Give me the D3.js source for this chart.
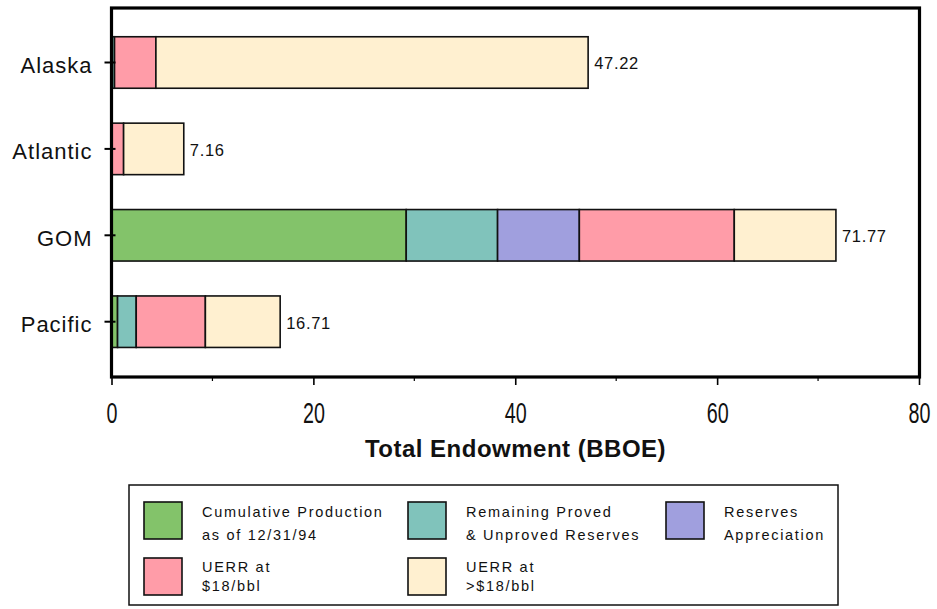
<!DOCTYPE html>
<html>
<head>
<meta charset="utf-8">
<script src="https://cdn.jsdelivr.net/npm/d3@7"></script>
<style>
  html, body { margin: 0; padding: 0; background: #fff; }
  svg { display: block; font-family: "Liberation Sans", Arial, sans-serif; }
</style>
</head>
<body>
<svg id="chart" width="937" height="609"></svg>
<script>
// Offshore regions and their endowment components (billion barrels of oil equivalent)
const regions = ["Alaska", "Atlantic", "GOM", "Pacific"];
const cumulativeProduction = [0, 0, 29.2, 0.6];
const remainingReserves = [0.3, 0, 9.05, 1.85];
const reservesAppreciation = [0, 0, 8.1, 0];
const uerrAt18 = [4.1, 1.2, 15.35, 6.85];
const uerrAbove18 = [42.82, 5.96, 10.07, 7.41];
const totals = [47.22, 7.16, 71.77, 16.71];

const xTicks = [0, 20, 40, 60, 80];
const xMinorTicks = [10, 30, 50, 70];

const seriesKeys = ["cum", "rem", "app", "u18", "u18p"];
const seriesColors = ["#83c36a", "#80c3bb", "#a09fde", "#ff9ca8", "#fff0d0"];
const legendLabels = [
  ["Cumulative Production", "as of 12/31/94"],
  ["Remaining Proved", "& Unproved Reserves"],
  ["Reserves", "Appreciation"],
  ["UERR at", "$18/bbl"],
  ["UERR at", ">$18/bbl"]
];

const rows = regions.map((r, i) => ({
  region: r,
  cum: cumulativeProduction[i],
  rem: remainingReserves[i],
  app: reservesAppreciation[i],
  u18: uerrAt18[i],
  u18p: uerrAbove18[i],
  total: totals[i]
}));

const svg = d3.select("#chart");

const frame = { left: 111.5, right: 919.5, top: 8, bottom: 377 };

const x = d3.scaleLinear().domain([0, 80]).range([frame.left, 919]);
const y = d3.scaleBand().domain(regions).range([19.3, 364.9])
  .paddingInner(0.404).paddingOuter(0.202);

const color = d3.scaleOrdinal().domain(seriesKeys).range(seriesColors);

const stacked = d3.stack().keys(seriesKeys)(rows);

// Stacked bar segments
const layers = svg.append("g").selectAll("g")
  .data(stacked)
  .join("g")
  .attr("fill", d => color(d.key));

layers.selectAll("rect")
  .data(d => d.filter(s => s[1] - s[0] > 0))
  .join("rect")
  .attr("x", d => x(d[0]))
  .attr("y", d => y(d.data.region))
  .attr("width", d => x(d[1]) - x(d[0]))
  .attr("height", y.bandwidth())
  .attr("stroke", "#111")
  .attr("stroke-width", 1.6);

// Total labels at bar ends
svg.append("g").selectAll("text")
  .data(rows)
  .join("text")
  .attr("x", d => x(d.total) + 6)
  .attr("y", d => y(d.region) + y.bandwidth() / 2)
  .attr("dy", "0.42em")
  .attr("font-size", 16.5)
  .attr("letter-spacing", 0.7)
  .attr("fill", "#111")
  .text(d => d.total.toFixed(2));

// Plot frame
svg.append("rect")
  .attr("x", frame.left)
  .attr("y", frame.top)
  .attr("width", frame.right - frame.left)
  .attr("height", frame.bottom - frame.top)
  .attr("fill", "none")
  .attr("stroke", "#000")
  .attr("stroke-width", 3.2);

// Category axis
const yAxis = svg.append("g")
  .attr("transform", `translate(${frame.left},0)`)
  .call(d3.axisLeft(y).tickSize(7).tickPadding(12));
yAxis.select(".domain").remove();
yAxis.selectAll(".tick line")
  .attr("x2", -7).attr("x1", 4)
  .attr("stroke", "#000").attr("stroke-width", 2);
yAxis.selectAll(".tick text")
  .attr("font-size", 22)
  .attr("dy", "0.48em")
  .attr("letter-spacing", 1)
  .attr("fill", "#111")
  .attr("font-family", "'Liberation Sans', Arial, sans-serif");

// Value axis
const xAxis = svg.append("g")
  .attr("transform", `translate(0,${frame.bottom})`)
  .call(d3.axisBottom(x).tickValues(xTicks).tickFormat(d3.format("d")).tickSize(8).tickPadding(17));
xAxis.select(".domain").remove();
xAxis.selectAll(".tick line").attr("stroke", "#000").attr("stroke-width", 1.6);
xAxis.selectAll(".tick text")
  .attr("font-size", 29)
  .attr("fill", "#111")
  .attr("transform", "scale(0.68,1)")
  .attr("font-family", "'Liberation Sans', Arial, sans-serif");

svg.append("g")
  .attr("transform", `translate(0,${frame.bottom})`)
  .selectAll("line")
  .data(xMinorTicks)
  .join("line")
  .attr("x1", d => x(d)).attr("x2", d => x(d))
  .attr("y1", 0).attr("y2", 4)
  .attr("stroke", "#000").attr("stroke-width", 1.2);

// Axis title
svg.append("text")
  .attr("x", (frame.left + frame.right) / 2)
  .attr("y", 457)
  .attr("text-anchor", "middle")
  .attr("font-size", 24)
  .attr("font-weight", "bold")
  .attr("letter-spacing", 0.5)
  .attr("fill", "#111")
  .text("Total Endowment (BBOE)");

// Legend
const legend = svg.append("g");
legend.append("rect")
  .attr("x", 129).attr("y", 485)
  .attr("width", 709).attr("height", 120)
  .attr("fill", "#fff")
  .attr("stroke", "#111").attr("stroke-width", 1.5);

const colX = [144, 408, 666];
const rowY = [502, 558];
const lineOffsets = [[15, 38], [14, 33]];
const legendItems = seriesKeys.map((k, i) => ({
  key: k,
  lines: legendLabels[i],
  col: i < 3 ? i : i - 3,
  row: i < 3 ? 0 : 1
}));

const item = legend.selectAll("g.item")
  .data(legendItems)
  .join("g")
  .attr("class", "item")
  .attr("transform", d => `translate(${colX[d.col]},${rowY[d.row]})`);

item.append("rect")
  .attr("width", 38).attr("height", 37)
  .attr("fill", d => color(d.key))
  .attr("stroke", "#111").attr("stroke-width", 1.6);

item.each(function(d) {
  d3.select(this).selectAll("text")
    .data(d.lines)
    .join("text")
    .attr("x", 58)
    .attr("y", (t, i) => lineOffsets[d.row][i])
    .attr("font-size", 14.5)
    .attr("letter-spacing", 1.7)
    .attr("fill", "#111")
    .text(t => t);
});
</script>
</body>
</html>
